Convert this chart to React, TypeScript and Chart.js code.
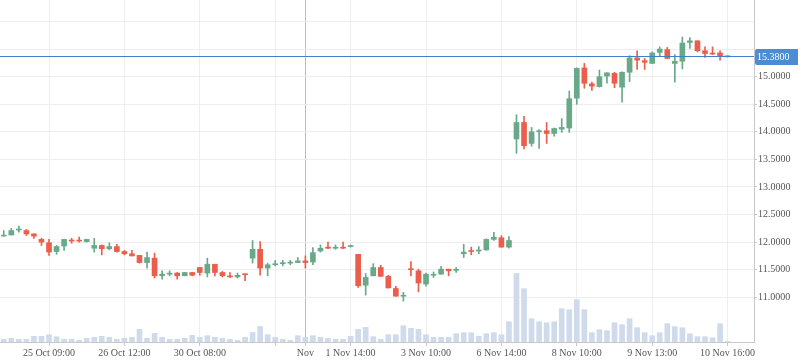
import React, { useEffect, useRef } from 'react';
import { Chart, registerables } from 'chart.js';

Chart.register(...registerables);

// 100 hourly slots on the x axis (97 filled, 3 empty on the right)
const slotCount = 100;
const categories: number[] = Array.from({ length: slotCount }, (_, i) => i);

const tickIndex = [6, 16, 26, 36, 40, 46, 56, 66, 76, 86, 96];
const tickText = ['25 Oct 09:00', '26 Oct 12:00', '30 Oct 08:00', '', 'Nov', '1 Nov 14:00', '3 Nov 10:00', '6 Nov 14:00', '8 Nov 10:00', '9 Nov 13:00', '10 Nov 16:00'];
const monthTick = 40;

const priceTicks = [11, 11.5, 12, 12.5, 13, 13.5, 14, 14.5, 15, 15.5, 16];
const lastPrice = 15.38;

const open = [
  12.11, 12.13, 12.22, 12.21, 12.15, 12.05, 11.99, 11.83, 11.93, 12.03,
  12.03, 12.01, 11.89, 11.94, 11.88, 11.92, 11.83, 11.79, 11.76, 11.63,
  11.71, 11.39, 11.42, 11.44, 11.39, 11.45, 11.54, 11.44, 11.60, 11.45,
  11.38, 11.37, 11.42, 11.71, 11.87, 11.53, 11.59, 11.61, 11.62, 11.63,
  11.66, 11.64, 11.84, 11.91, 11.89, 11.90, 11.92, 11.78, 11.22, 11.39,
  11.54, 11.38, 11.16, 11.02, 11.51, 11.48, 11.24, 11.40, 11.42, 11.51,
  11.49, 11.79, 11.84, 11.84, 11.86, 12.05, 12.08, 11.91, 13.87, 14.17,
  13.79, 14.00, 14.02, 13.97, 14.05, 14.07, 14.61, 15.16, 14.87, 14.82,
  15.01, 15.06, 14.81, 15.08, 15.34, 15.29, 15.24, 15.44, 15.49, 15.24,
  15.28, 15.62, 15.65, 15.47, 15.42, 15.43, 15.37,
];
const high = [
  12.21, 12.25, 12.29, 12.23, 12.15, 12.07, 12.05, 11.94, 12.05, 12.07,
  12.09, 12.05, 12.07, 11.95, 11.99, 11.96, 11.85, 11.85, 11.76, 11.82,
  11.80, 11.48, 11.48, 11.45, 11.45, 11.45, 11.54, 11.71, 11.60, 11.47,
  11.45, 11.44, 11.42, 12.03, 12.01, 11.62, 11.67, 11.67, 11.67, 11.72,
  11.75, 11.90, 11.95, 12.00, 11.95, 12.00, 11.95, 11.78, 11.43, 11.61,
  11.58, 11.40, 11.20, 11.09, 11.65, 11.51, 11.44, 11.46, 11.56, 11.51,
  11.54, 11.96, 11.91, 11.92, 12.06, 12.18, 12.12, 12.10, 14.31, 14.28,
  14.08, 14.04, 14.17, 14.07, 14.24, 14.74, 15.16, 15.24, 14.90, 15.12,
  15.07, 15.08, 15.09, 15.38, 15.47, 15.33, 15.45, 15.54, 15.53, 15.40,
  15.72, 15.71, 15.65, 15.54, 15.54, 15.47, 15.37,
];
const low = [
  12.11, 12.13, 12.18, 12.12, 12.07, 11.94, 11.76, 11.78, 11.85, 11.98,
  12.00, 12.00, 11.82, 11.77, 11.86, 11.82, 11.77, 11.75, 11.62, 11.53,
  11.35, 11.33, 11.39, 11.33, 11.39, 11.39, 11.40, 11.37, 11.39, 11.37,
  11.36, 11.35, 11.30, 11.62, 11.40, 11.39, 11.57, 11.57, 11.59, 11.63,
  11.53, 11.59, 11.82, 11.88, 11.87, 11.88, 11.91, 11.18, 11.04, 11.39,
  11.38, 11.17, 11.02, 10.93, 11.39, 11.10, 11.20, 11.36, 11.42, 11.39,
  11.45, 11.72, 11.77, 11.79, 11.85, 12.03, 11.91, 11.89, 13.61, 13.69,
  13.74, 13.70, 13.79, 13.92, 13.99, 13.99, 14.50, 14.79, 14.75, 14.81,
  14.88, 14.80, 14.54, 14.91, 15.13, 15.13, 15.24, 15.38, 15.33, 14.90,
  15.14, 15.51, 15.45, 15.35, 15.40, 15.30, 15.36,
];
const close = [
  12.12, 12.21, 12.23, 12.15, 12.11, 12.00, 11.82, 11.92, 12.05, 12.02,
  12.02, 12.05, 11.94, 11.88, 11.92, 11.83, 11.79, 11.75, 11.63, 11.72,
  11.39, 11.42, 11.43, 11.39, 11.45, 11.40, 11.45, 11.60, 11.45, 11.39,
  11.37, 11.40, 11.41, 11.87, 11.53, 11.59, 11.60, 11.62, 11.63, 11.66,
  11.63, 11.81, 11.89, 11.89, 11.90, 11.89, 11.93, 11.21, 11.36, 11.54,
  11.38, 11.17, 11.02, 11.03, 11.50, 11.26, 11.42, 11.41, 11.51, 11.48,
  11.50, 11.82, 11.83, 11.85, 12.05, 12.09, 11.91, 12.03, 14.17, 13.75,
  14.00, 14.02, 13.97, 14.06, 14.08, 14.60, 15.15, 14.88, 14.83, 15.00,
  15.07, 14.88, 15.08, 15.34, 15.30, 15.26, 15.43, 15.50, 15.33, 15.28,
  15.61, 15.65, 15.47, 15.42, 15.41, 15.37, 15.36,
];
const volume = [
  27, 37, 27, 27, 57, 57, 73, 53, 27, 27,
  17, 37, 47, 57, 47, 27, 37, 47, 127, 37,
  87, 47, 27, 27, 37, 67, 47, 63, 47, 37,
  27, 17, 47, 95, 155, 73, 47, 27, 17, 63,
  47, 63, 47, 37, 27, 27, 57, 127, 147, 53,
  27, 73, 73, 163, 137, 127, 73, 47, 47, 47,
  83, 93, 93, 57, 83, 93, 73, 203, 685, 533,
  233, 203, 193, 203, 333, 323, 423, 323, 93, 123,
  113, 193, 173, 233, 143, 93, 63, 93, 183, 153,
  143, 83, 53, 53, 43, 183, 5,
];

const UP = '#68a98a';
const DOWN = '#eb5e4b';
const FONT = '"Liberation Serif", "Times New Roman", serif';

const priceTag = {
  id: 'priceTag',
  afterDraw(chart: any) {
    const { ctx, chartArea, scales } = chart;
    const y = Math.round(scales.y.getPixelForValue(lastPrice)) + 0.5;
    ctx.save();
    ctx.strokeStyle = '#3f80c9';
    ctx.lineWidth = 1;
    ctx.beginPath();
    ctx.moveTo(chartArea.left, y);
    ctx.lineTo(chartArea.right, y);
    ctx.stroke();
    const x0 = chartArea.right + 1;
    const x1 = chart.width;
    const h = 16;
    const top = Math.round(y - h / 2);
    const r = 2;
    ctx.fillStyle = '#4b8cd3';
    ctx.beginPath();
    ctx.moveTo(x0 + r, top);
    ctx.lineTo(x1, top);
    ctx.lineTo(x1, top + h);
    ctx.lineTo(x0 + r, top + h);
    ctx.arcTo(x0, top + h, x0, top + h - r, r);
    ctx.lineTo(x0, top + r);
    ctx.arcTo(x0, top, x0 + r, top, r);
    ctx.closePath();
    ctx.fill();
    ctx.fillStyle = '#ffffff';
    ctx.font = '10px ' + FONT;
    ctx.textBaseline = 'middle';
    ctx.textAlign = 'left';
    ctx.fillText(lastPrice.toFixed(4), x0 + 2, top + h / 2 + 0.5);
    ctx.restore();
  },
};

export default function App() {
  const ref = useRef<HTMLCanvasElement>(null);

  useEffect(() => {
    if (!ref.current) return;
    const colors = open.map((o, i) => (close[i] >= o ? UP : DOWN));
    const bodies = open.map((o, i) => [o, close[i]]);
    const wicks = low.map((l, i) => [l, high[i]]);

    const chart = new Chart(ref.current, {
      type: 'bar',
      data: {
        labels: categories,
        datasets: [
          {
            label: 'body',
            data: bodies as any,
            backgroundColor: colors,
            borderWidth: 0,
            barThickness: 5,
            minBarLength: 1,
            grouped: false,
            yAxisID: 'y',
          },
          {
            label: 'wick',
            data: wicks as any,
            backgroundColor: colors,
            borderWidth: 0,
            barThickness: 1,
            minBarLength: 1,
            grouped: false,
            yAxisID: 'y',
          },
          {
            label: 'volume',
            data: volume,
            backgroundColor: '#cfdbeb',
            borderWidth: 0,
            barThickness: 5,
            grouped: false,
            yAxisID: 'v',
          },
        ],
      },
      options: {
        responsive: false,
        animation: false,
        layout: { padding: 0 },
        plugins: { legend: { display: false }, tooltip: { enabled: false } },
        scales: {
          x: {
            type: 'category',
            offset: true,
            afterBuildTicks: (s: any) => {
              s.ticks = tickIndex.map((v) => ({ value: v }));
            },
            afterFit: (s: any) => {
              s.height = 21;
              s.paddingLeft = 0;
              s.paddingRight = 0;
            },
            ticks: {
              autoSkip: false,
              maxRotation: 0,
              padding: 1,
              color: '#555',
              font: { family: FONT, size: 10 },
              callback: (v: any) => {
                const k = tickIndex.indexOf(Number(v));
                return k >= 0 ? tickText[k] : '';
              },
            },
            grid: {
              offset: false,
              color: (c: any) => (c.tick && c.tick.value === monthTick ? '#bdbdbd' : '#eeeeee'),
              tickColor: '#c8c8c8',
              tickLength: 4,
            },
            border: { color: '#c8c8c8' },
          },
          y: {
            type: 'linear',
            position: 'right',
            min: 10.19,
            max: 16.39,
            afterBuildTicks: (s: any) => {
              s.ticks = priceTicks.map((v) => ({ value: v }));
            },
            afterFit: (s: any) => {
              s.width = 44;
              s.paddingTop = 0;
              s.paddingBottom = 0;
            },
            ticks: {
              padding: 1,
              color: '#555',
              font: { family: FONT, size: 10 },
              callback: (v: any) => (Number(v) <= 15 ? Number(v).toFixed(4) : ''),
            },
            grid: {
              color: '#eeeeee',
              tickColor: (c: any) => (c.tick && c.tick.value > 15 ? 'rgba(0,0,0,0)' : '#c8c8c8'),
              tickLength: 3,
            },
            border: { color: '#c8c8c8' },
          },
          v: {
            type: 'linear',
            display: false,
            min: 0,
            max: 3420,
          },
        },
      },
      plugins: [priceTag],
    });
    return () => chart.destroy();
  }, []);

  return (
    <div style={{ position: 'fixed', left: 0, top: 0, width: 798, height: 363, background: '#fff' }}>
      <canvas ref={ref} width={798} height={363} style={{ display: 'block' }} />
    </div>
  );
}
